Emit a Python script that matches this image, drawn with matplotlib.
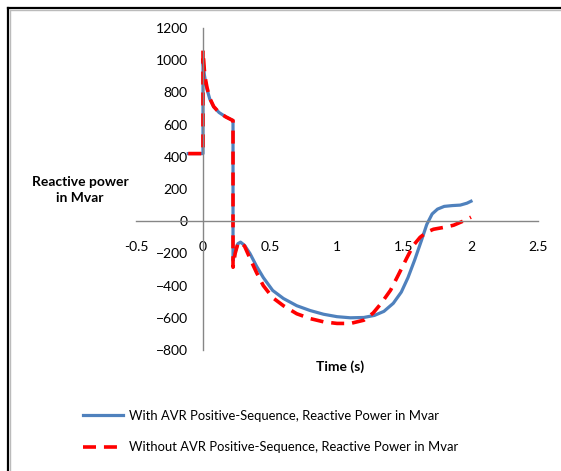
import numpy as np
import matplotlib
matplotlib.use("Agg")
import matplotlib.pyplot as plt
from matplotlib.lines import Line2D

# with AVR
t_avr = [-0.11, 0.0, 0.0, 0.01, 0.02, 0.03, 0.05, 0.08, 0.12, 0.17, 0.224, 0.224,
         0.24, 0.26, 0.28, 0.31, 0.35, 0.40, 0.45, 0.52, 0.60, 0.70, 0.80,
         0.90, 1.00, 1.10, 1.20, 1.28, 1.35, 1.42, 1.48, 1.53, 1.58, 1.63,
         1.67, 1.71, 1.75, 1.80, 1.86, 1.92, 1.97, 2.0]
q_avr = [420, 420, 1000, 910, 860, 820, 760, 710, 675, 648, 625, -245,
         -190, -140, -130, -150, -200, -280, -350, -430, -480, -525, -555,
         -578, -593, -600, -598, -585, -560, -510, -440, -350, -240, -120,
         -20, 45, 75, 92, 97, 100, 112, 124]

# without AVR
t_noavr = [-0.11, 0.0, 0.0, 0.01, 0.02, 0.03, 0.05, 0.08, 0.12, 0.17, 0.224, 0.224,
           0.24, 0.26, 0.28, 0.31, 0.35, 0.40, 0.45, 0.52, 0.60, 0.70, 0.80,
           0.90, 1.00, 1.10, 1.20, 1.27, 1.33, 1.40, 1.46, 1.52, 1.57, 1.62,
           1.67, 1.72, 1.80, 1.87, 1.94, 2.0]
q_noavr = [420, 420, 1060, 940, 875, 830, 765, 712, 675, 648, 625, -286,
           -200, -140, -130, -155, -230, -320, -400, -475, -525, -575, -605,
           -625, -635, -635, -615, -570, -510, -428, -330, -230, -150, -100,
           -68, -50, -38, -25, 0, 25]

xticks = [-0.5, 0, 0.5, 1, 1.5, 2, 2.5]
xticklabels = ["-0.5", "0", "0.5", "1", "1.5", "2", "2.5"]
yticks = list(range(-800, 1201, 200))

plt.rcParams['font.family'] = ['Lato', 'DejaVu Sans']
plt.rcParams['font.size'] = 10

fig = plt.figure(figsize=(5.61, 4.71), dpi=100)
ax = fig.add_axes([136 / 561, 1 - 350 / 471, 402 / 561, 322 / 471])

blue = "#4F81BD"
red = "#FF0000"
ax.plot(t_avr, q_avr, color=blue, lw=2.3, solid_joinstyle="round")
ax.plot(t_noavr, q_noavr, color=red, lw=2.6, dashes=(3.6, 2.2))

ax.set_xlim(-0.5, 2.5)
ax.set_ylim(-800, 1200)
for s in ["top", "right"]:
    ax.spines[s].set_visible(False)
ax.spines["left"].set_position(("data", 0))
ax.spines["bottom"].set_position(("data", 0))
for s in ["left", "bottom"]:
    ax.spines[s].set_color("#868686")
    ax.spines[s].set_linewidth(1.0)

ax.set_xticks(xticks)
ax.set_xticklabels(xticklabels)
ax.set_yticks(yticks)
ax.tick_params(axis="both", length=0, colors="#000000")
ax.tick_params(axis="x", pad=14)
ax.tick_params(axis="y", pad=11)
ax.patch.set_alpha(0)

fig.text(80 / 561, 1 - 190 / 471, "Reactive power\nin Mvar", ha="center",
         va="center", fontweight="bold", linespacing=1.5)
fig.text(340 / 561, 1 - 367 / 471, "Time (s)", ha="center", va="center",
         fontweight="bold")

handles = [Line2D([], [], color=blue, lw=2.3),
           Line2D([], [], color=red, lw=2.6, dashes=(3.6, 2.2))]
labels = ["With AVR Positive-Sequence, Reactive Power in Mvar",
          "Without AVR Positive-Sequence, Reactive Power in Mvar"]
fig.legend(handles, labels, loc="upper left",
           bbox_to_anchor=(71 / 561, 1 - 398 / 471), frameon=False,
           handlelength=3.1, handletextpad=0.45, labelspacing=1.5,
           fontsize=9.4)

# frame of the chart area
fig.add_artist(Line2D([8 / 561, 1], [1 - 7.5 / 471] * 2, color="black", lw=1.6,
                      transform=fig.transFigure))
fig.add_artist(Line2D([8 / 561] * 2, [0, 1 - 7.5 / 471], color="black", lw=1.6,
                      transform=fig.transFigure))
fig.add_artist(Line2D([10 / 561, 1], [1 - 9.5 / 471] * 2, color="#BBBBBB", lw=1,
                      transform=fig.transFigure))
fig.add_artist(Line2D([10 / 561] * 2, [0, 1 - 9.5 / 471], color="#BBBBBB", lw=1,
                      transform=fig.transFigure))

fig.savefig("out.png", dpi=100)
